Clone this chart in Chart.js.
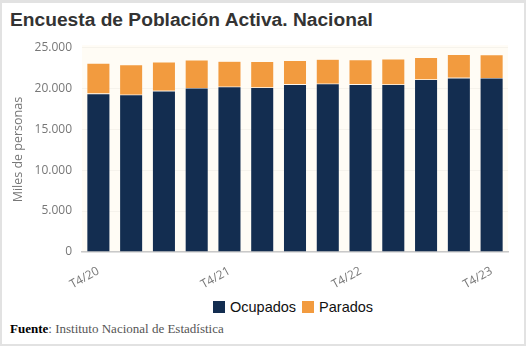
<!DOCTYPE html>
<html>
<head>
<meta charset="utf-8">
<script src="https://cdn.jsdelivr.net/npm/chart.js@4/dist/chart.umd.min.js"></script>
<style>
  body { margin: 0; background: #fff; }
  #wrap { position: relative; width: 526px; height: 346px; box-sizing: border-box; border: 2px solid #e2e2e2; border-top-width: 3px; background: #fff; }
  #title { position: absolute; left: 8px; top: 6px; font: bold 19.2px "Liberation Sans", Arial, sans-serif; color: #333; white-space: nowrap; }
  #box { position: absolute; left: -2px; top: 27px; width: 522px; height: 262px; }
  #legend { position: absolute; left: 211px; top: 296px; font: 14.5px "Liberation Sans", Arial, sans-serif; color: #111; display: flex; align-items: center; white-space: nowrap; }
  #legend span.sq { display: inline-block; width: 12px; height: 12px; margin-right: 5px; }
  #legend span.it { display: inline-flex; align-items: center; margin-right: 6px; }
  #src { position: absolute; left: 8px; top: 318px; font: 13px "Liberation Serif", "Times New Roman", serif; color: #555; white-space: nowrap; }
  #src b { color: #000; }
</style>
</head>
<body>
<div id="wrap">
  <div id="title">Encuesta de Población Activa. Nacional</div>
  <div id="box"><canvas id="chart-epa"></canvas></div>
  <div id="legend"></div>
  <div id="src"><b>Fuente</b>: Instituto Nacional de Estadística</div>
</div>
<script>
// datos (miles de personas)
var trimestres = ["T4/20", "T1/21", "T2/21", "T3/21", "T4/21", "T1/22", "T2/22", "T3/22", "T4/22", "T1/23", "T2/23", "T3/23", "T4/23"];
var ocupados = [19344, 19206, 19671, 20031, 20185, 20085, 20468, 20546, 20463, 20453, 21057, 21265, 21246];
var parados = [3720, 3654, 3544, 3417, 3104, 3175, 2919, 2981, 3025, 3127, 2689, 2855, 2830];
var yTicks = [0, 5000, 10000, 15000, 20000, 25000];

var colNavy = '#132d50';
var colOrange = '#f29b3f';

function miles(v) {
  return String(v).replace(/\B(?=(\d{3})+(?!\d))/g, '.');
}

// fondo crema del area de dibujo
var plotBg = {
  id: 'plotBg',
  beforeDraw: function (chart) {
    var a = chart.chartArea, ctx = chart.ctx;
    ctx.save();
    ctx.fillStyle = '#fffcf5';
    ctx.fillRect(a.left, a.top - 2, a.right - a.left, a.bottom - a.top + 2);
    ctx.restore();
  }
};

var config = {
  type: 'bar',
  data: {
    labels: trimestres,
    datasets: [{
      label: 'Ocupados',
      data: ocupados,
      backgroundColor: colNavy,
      borderColor: 'rgba(255,255,255,0.25)',
      borderWidth: 0.6,
      barPercentage: 0.71,
      categoryPercentage: 1
    }, {
      label: 'Parados',
      data: parados,
      backgroundColor: colOrange,
      borderColor: 'rgba(255,255,255,0.25)',
      borderWidth: 0.6,
      barPercentage: 0.71,
      categoryPercentage: 1
    }]
  },
  options: {
    responsive: true,
    maintainAspectRatio: false,
    animation: false,
    layout: { padding: { left: 0, right: 14, top: 15, bottom: 0 } },
    plugins: {
      legend: { display: false },
      tooltip: { enabled: false }
    },
    scales: {
      x: {
        stacked: true,
        grid: { display: false },
        border: { display: true, color: '#c9c9c9', width: 1.5 },
        ticks: {
          autoSkip: false,
          minRotation: 29,
          maxRotation: 29,
          padding: 4,
          color: '#777',
          font: { family: 'Open Sans', size: 12 },
          callback: function (v, i) { return i % 4 === 0 ? trimestres[i] : ''; }
        },
        afterFit: function (s) { s.height = 40; }
      },
      y: {
        stacked: true,
        min: 0,
        max: 25000,
        afterBuildTicks: function (s) { s.ticks = yTicks.map(function (v) { return { value: v }; }); },
        grid: { color: 'rgba(0,0,0,0.035)', drawTicks: false },
        border: { display: false },
        ticks: {
          padding: 10,
          color: '#777',
          font: { family: 'Open Sans', size: 12 },
          callback: function (v) { return miles(v); }
        },
        title: {
          display: true,
          text: 'Miles de personas',
          color: '#777',
          font: { family: 'Open Sans', size: 12.5 },
          padding: { top: 11, bottom: 0 }
        },
        afterFit: function (s) { s.width = 82; }
      }
    }
  },
  plugins: [plotBg]
};

var ctx = document.getElementById('chart-epa').getContext('2d');
window.chartEpa = new Chart(ctx, config);

// leyenda
var leg = document.getElementById('legend');
config.data.datasets.forEach(function (d) {
  var it = document.createElement('span');
  it.className = 'it';
  it.innerHTML = '<span class="sq" style="background:' + d.backgroundColor + '"></span>' + d.label;
  leg.appendChild(it);
});
</script>
</body>
</html>
